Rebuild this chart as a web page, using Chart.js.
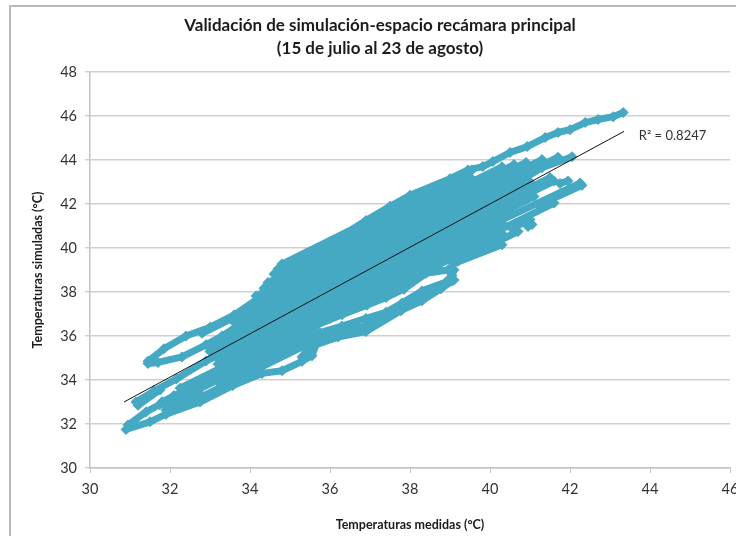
<!DOCTYPE html>
<html lang="es">
<head>
<meta charset="utf-8">
<title>Validación de simulación</title>
<script src="https://cdn.jsdelivr.net/npm/chart.js@4"></script>
<style>
  html, body { margin: 0; padding: 0; background: #fff; overflow: hidden; }
  #wrap { position: relative; width: 736px; height: 536px; filter: blur(0.35px); }
  #frame { position: absolute; left: 9px; top: 5px; width: 740px; height: 560px; border: 2px solid #b9b9b9; box-sizing: border-box; }
  canvas { position: absolute; left: 0; top: 0; }
</style>
</head>
<body>
<div id="wrap"><div id="frame"></div><canvas id="chart" width="736" height="536"></canvas></div>
<script>
// Values; null breaks the trace between passes
const medidas = [
  30.9, 31.5, 31.9, 32.75, 33.57, 34.3, 34.8, 35.3, 35.55, 35.65, 36.2, 36.9, 37.77, 38.3, 38.77, 39.1, null,
  35.7, 36.3, 36.9, 37.4, 37.8, 38.3, 38.8, 39.05, null,
  35.3, 35.75, 36.3, 36.9, 37.4, 37.8, 38.3, 38.9, 39.05, 39.1, null,
  35.67, 36.3, 36.92, 37.4, 37.85, 38.4, 38.95, 39.1, 40.3, null,
  39.2, 40.7, null, 40.95, 41.05, null,
  30.95, 31.4, 31.74, 32.1, null,
  31.15, 31.6, 32.16, 32.9, 33.3, null,
  31.2, 31.75, null,
  31.9, 33.6, 35.6, null,
  31.9, 32.74, null, 33.24, 35.6, null,
  31.9, 33.6, 35.6, null,
  31.8, 34, 36, 38, 40.3, null, 40.55, 41, null,
  32.25, 35, 38, 41.6, null,
  33.2, 36, 38, 40.3, null, 41.2, 42.3, null,
  33.2, 36, 38, 42.25, null,
  33.2, 38, 41.1, null, 41.75, 41.95, null,
  33, 38, 41.6, null,
  33, 38, 41.5, null,
  31.45, 31.7, 32.3, 32.9, 33.3, 33.6, 38, 41, null,
  33.6, 38, 40.9, 41.3, 42.05, null,
  32.8, 38, 41.7, null,
  31.45, 31.85, 32.4, 33, 33.6, 34.2, 38, 41.3, null,
  34.15, 38, 40.9, null,
  34.35, 38, 40.6, null,
  34.45, 38, 40.3, null,
  34.6, 38, 39.5, null,
  34.8, 38, 39.55, null,
  34.7, 35.4, 36.07, 36.9, 37.5, 38, 39, 39.45, 39.82, 40.07, 40.5, 40.93, 41.38, 41.7, 42, 42.38, 42.7, 43.08, 43.33
];
const simuladas = [
  31.75, 32.1, 32.45, 33, 33.75, 34.3, 34.42, 34.85, 35.1, 35.6, 35.95, 36.2, 37.15, 37.6, 38.15, 38.55, null,
  35.95, 36.15, 36.45, 36.85, 37.2, 37.75, 38.2, 38.5, null,
  35.05, 36.15, 36.45, 36.8, 37.08, 37.5, 38.05, 38.45, 38.75, 39, null,
  36.5, 36.97, 37.4, 37.75, 38.13, 38.85, 39, 39.3, 40.15, null,
  39.4, 40.75, null, 40.98, 41.07, null,
  31.95, 32.55, 32.88, 33.3, null,
  33, 33.5, 34.05, 34.86, 35.2, null,
  32.85, 33.55, null,
  32.44, 33.97, 35.77, null,
  32.64, 33.4, null, 33.85, 35.97, null,
  32.84, 34.37, 36.17, null,
  33.01, 34.99, 36.79, 38.59, 40.66, null, 40.89, 41.29, null,
  33.63, 36.1, 38.8, 42.04, null,
  34.73, 37.25, 39.05, 41.12, null, 41.93, 42.85, null,
  34.98, 37.5, 39.3, 42.95, null,
  35.23, 39.55, 42.34, null, 42.93, 43.05, null,
  35.3, 39.8, 43.04, null,
  35.55, 40.05, 43.2, null,
  34.75, 34.8, 35.05, 35.6, 36, 36.34, 40.3, 43, null,
  36.64, 40.6, 43.22, 43.65, 44.15, null,
  36.12, 40.8, 44.13, null,
  34.85, 35.42, 36, 36.4, 36.95, 37.7, 41.05, 44.02, null,
  37.82, 41.28, 43.89, null,
  38.17, 41.45, 43.79, null,
  38.43, 41.62, 43.69, null,
  38.82, 41.88, 43.23, null,
  39.27, 42.15, 43.55, null,
  39.05, 39.75, 40.3, 41.25, 41.9, 42.4, 43.15, 43.55, 43.7, 43.93, 44.34, 44.61, 45.02, 45.25, 45.38, 45.7, 45.84, 45.97, 46.16
];

const tendenciaX = [30.85, 43.35];
const tendenciaY = [33, 45.3];

const TEAL = '#45a9c3';
const FONT = "Lato, 'Open Sans', sans-serif";

// Chart title and R² label go on the canvas at fixed spots
const chartTextPlugin = {
  id: 'chartText',
  afterDraw(chart) {
    const { ctx, scales } = chart;
    ctx.save();
    ctx.fillStyle = '#1c1c1c';
    ctx.textAlign = 'center';
    ctx.textBaseline = 'middle';
    ctx.font = `700 17px ${FONT}`;
    ctx.fillText('Validación de simulación-espacio recámara principal', 380, 26);
    ctx.fillText('(15 de julio al 23 de agosto)', 380, 49);
    ctx.fillStyle = '#333';
    ctx.textAlign = 'left';
    ctx.font = `400 13px ${FONT}`;
    ctx.fillText('R² = 0.8247', scales.x.getPixelForValue(43.72), scales.y.getPixelForValue(45.08));
    ctx.restore();
  }
};

const axisBase = {
  border: { color: '#c4c4c4', width: 1.5 },
  ticks: { color: '#333', font: { family: FONT, size: 14.5 }, stepSize: 2, autoSkip: false, maxRotation: 0, padding: 8 }
};

new Chart(document.getElementById('chart'), {
  type: 'scatter',
  plugins: [chartTextPlugin],
  data: {
    datasets: [
      {
        label: 'Tendencia',
        data: tendenciaX.map((x, i) => ({ x, y: tendenciaY[i] })),
        showLine: true, borderColor: '#111', borderWidth: 1, pointRadius: 0, order: 0
      },
      {
        label: 'Simulación',
        data: medidas.map((x, i) => ({ x, y: simuladas[i] })),
        showLine: true, spanGaps: false, borderColor: TEAL, borderWidth: 7, borderJoinStyle: 'round', borderCapStyle: 'round',
        pointStyle: 'rectRot', pointRadius: 5.5, pointBackgroundColor: TEAL, pointBorderColor: TEAL, pointBorderWidth: 0, order: 1
      }
    ]
  },
  options: {
    responsive: false,
    animation: false,
    layout: { padding: { top: 72, right: 6, left: 0, bottom: 0 } },
    plugins: { legend: { display: false }, tooltip: { enabled: false } },
    scales: {
      x: {
        ...axisBase,
        min: 30, max: 46,
        grid: { drawOnChartArea: false, color: '#c4c4c4', tickLength: 5 },
        title: { display: true, text: 'Temperaturas medidas (°C)', color: '#1c1c1c', font: { family: FONT, size: 12.5, weight: '700' }, padding: { top: 21 } },
        // the 46 label runs off the page in the reference, so no room is kept for it
        afterFit(scale) { scale.height = 68; scale.paddingRight = 0; scale.paddingLeft = 0; }
      },
      y: {
        ...axisBase,
        min: 30, max: 48,
        grid: { color: '#cfcfcf', lineWidth: 1.5, tickLength: 5 },
        title: { display: true, text: 'Temperaturas simuladas (°C)', color: '#1c1c1c', font: { family: FONT, size: 12.5, weight: '700' }, padding: { top: 30 } },
        afterFit(scale) { scale.width = 90; }
      }
    }
  }
});
</script>
</body>
</html>
